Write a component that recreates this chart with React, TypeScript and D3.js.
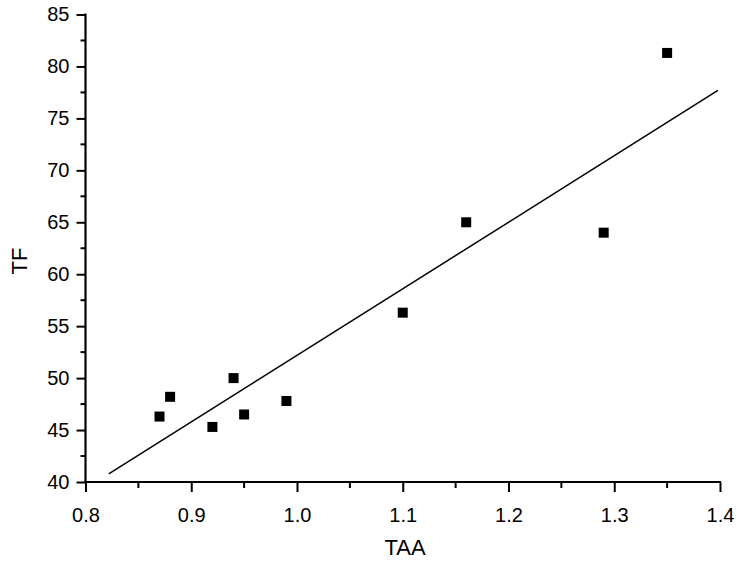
import * as d3 from "d3";
import { useEffect, useRef } from "react";

// TAA vs TF measurements
const taa = [0.87, 0.88, 0.92, 0.94, 0.95, 0.99, 1.1, 1.16, 1.29, 1.35];
const tf = [46.3, 48.2, 45.3, 50.0, 46.5, 47.8, 56.3, 65.0, 64.0, 81.3];

const xTicks = [0.8, 0.9, 1.0, 1.1, 1.2, 1.3, 1.4];
const yTicks = [40, 45, 50, 55, 60, 65, 70, 75, 80, 85];

// extent of the drawn fit line
const fitRange = [0.822, 1.398];

function chart() {
  const width = 740;
  const height = 562;
  const marginLeft = 85.5;
  const marginRight = 20;
  const marginTop = 14.5;
  const marginBottom = 80;

  const x = d3.scaleLinear().domain([0.8, 1.4]).range([marginLeft, width - marginRight]);
  const y = d3.scaleLinear().domain([40, 85]).range([height - marginBottom, marginTop]);

  const data = taa.map((v, i) => ({ x: v, y: tf[i] }));

  // least squares fit
  const mx = d3.mean(taa) ?? 0;
  const my = d3.mean(tf) ?? 0;
  const sxy = d3.sum(data, (d) => (d.x - mx) * (d.y - my));
  const sxx = d3.sum(taa, (v) => (v - mx) * (v - mx));
  const slope = sxy / sxx;
  const intercept = my - slope * mx;

  const svg = d3
    .create("svg")
    .attr("width", width)
    .attr("height", height)
    .attr("viewBox", [0, 0, width, height])
    .attr("style", "position:absolute;left:0;top:0;background:#fff;font-family:Arial, 'Liberation Sans', sans-serif;");

  const fmtX = d3.format(".1f");

  // x axis
  const gx = svg.append("g").attr("transform", `translate(0,${y(40)})`);
  gx.call(d3.axisBottom(x).tickValues(xTicks).tickSize(10).tickFormat((d) => fmtX(d as number)))
    .call((g) => g.select(".domain").attr("stroke-width", 2.2).attr("d", `M${x(0.8) - 1},0H${x(1.4) + 1}`))
    .call((g) => g.selectAll(".tick line").attr("stroke-width", 2))
    .call((g) => g.selectAll(".tick text").attr("font-size", 20).attr("dy", "1.35em").attr("font-family", "Arial, 'Liberation Sans', sans-serif"));
  gx.append("g")
    .selectAll()
    .data(d3.range(0.85, 1.4, 0.1))
    .join("line")
    .attr("x1", (d) => x(d))
    .attr("x2", (d) => x(d))
    .attr("y1", 0)
    .attr("y2", 6)
    .attr("stroke", "#000")
    .attr("stroke-width", 2);

  // y axis
  const gy = svg.append("g").attr("transform", `translate(${x(0.8)},0)`);
  gy.call(d3.axisLeft(y).tickValues(yTicks).tickSize(9))
    .call((g) => g.select(".domain").attr("stroke-width", 2.2).attr("d", `M0,${y(40) + 1}V${y(85) - 1}`))
    .call((g) => g.selectAll(".tick line").attr("stroke-width", 2))
    .call((g) => g.selectAll(".tick text").attr("font-size", 20).attr("dx", "-0.2em").attr("font-family", "Arial, 'Liberation Sans', sans-serif"));
  gy.append("g")
    .selectAll()
    .data(d3.range(42.5, 85, 5))
    .join("line")
    .attr("x1", 0)
    .attr("x2", -5)
    .attr("y1", (d) => y(d))
    .attr("y2", (d) => y(d))
    .attr("stroke", "#000")
    .attr("stroke-width", 2);

  // fit line
  svg.append("line")
    .attr("x1", x(fitRange[0]))
    .attr("y1", y(slope * fitRange[0] + intercept))
    .attr("x2", x(fitRange[1]))
    .attr("y2", y(slope * fitRange[1] + intercept))
    .attr("stroke", "#000")
    .attr("stroke-width", 1.5);

  // points
  const s = 10;
  svg.append("g")
    .selectAll()
    .data(data)
    .join("rect")
    .attr("x", (d) => x(d.x) - s / 2)
    .attr("y", (d) => y(d.y) - s / 2)
    .attr("width", s)
    .attr("height", s)
    .attr("fill", "#000");

  // axis titles
  svg.append("text")
    .attr("x", 405)
    .attr("y", 555)
    .attr("text-anchor", "middle")
    .attr("font-size", 22)
    .text("TAA");

  svg.append("text")
    .attr("transform", `translate(27,261) rotate(-90)`)
    .attr("text-anchor", "middle")
    .attr("font-size", 22)
    .text("TF");

  return svg.node();
}

export default function App() {
  const ref = useRef<HTMLDivElement | null>(null);
  useEffect(() => {
    if (ref.current) {
      ref.current.innerHTML = "";
      const node = chart();
      if (node) ref.current.appendChild(node);
    }
  }, []);
  return <div ref={ref} />;
}
